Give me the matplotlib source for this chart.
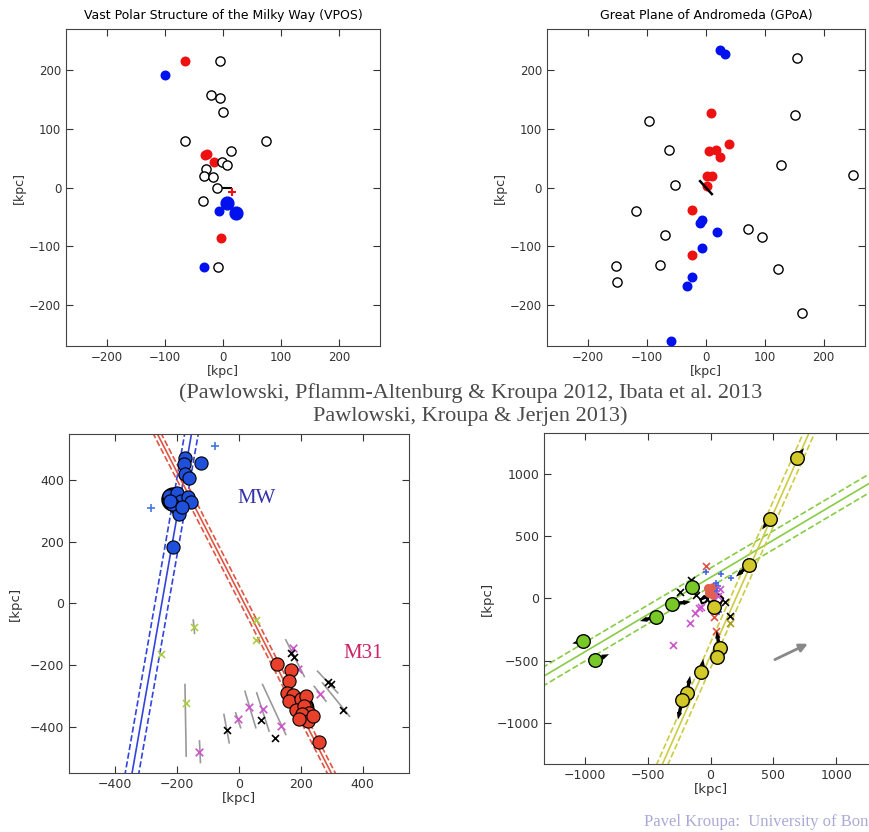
import matplotlib
matplotlib.use('Agg')
import matplotlib.pyplot as plt

# ---- top left: Vast Polar Structure of the Milky Way (VPOS) ----
vpos_red_x = [-66, -31, -27, -15, -4]
vpos_red_y = [216, 55, 58, 44, -86]
vpos_blue_x = [-100, -7, -32]
vpos_blue_y = [192, -40, -135]
vpos_mc_x = [7, 23]          # LMC / SMC
vpos_mc_y = [-27, -44]
vpos_open_x = [-5, -20, -5, 0, -65, 73, 14, -1, 7, -29, -33, -18, -11, -35, -8]
vpos_open_y = [215, 158, 152, 129, 79, 79, 62, 44, 39, 32, 19, 18, -1, -22, -135]
mw_disk_x = [-11, 14]
mw_disk_y = [-1, -1]
sun_x = [15]
sun_y = [-7]

# ---- top right: Great Plane of Andromeda (GPoA) ----
gpoa_red_x = [9, 39, 6, 17, 24, 2, 11, 1, -23, -23]
gpoa_red_y = [127, 75, 62, 64, 53, 20, 20, 2, -38, -114]
gpoa_blue_x = [24, 33, -7, -10, 19, -7, -23, -32, -59]
gpoa_blue_y = [234, 228, -56, -61, -76, -103, -153, -168, -261]
gpoa_open_x = [155, -97, 152, -63, 127, 249, -53, -118, -70, 71, 95, -78, -152, -151, 122, 163]
gpoa_open_y = [221, 113, 123, 64, 39, 22, 4, -40, -81, -71, -84, -131, -133, -161, -139, -213]
m31_disk_x = [-10, 10]
m31_disk_y = [11, -11]

# ---- bottom left: MW and M31 planes ----
mw_sat_x = [-176, -178, -122, -175, -162, -227, -200, -189, -205, -195, -164, -155, -216, -184, -222, -214]
mw_sat_y = [473, 454, 457, 419, 406, 349, 360, 333, 312, 290, 346, 328, 322, 312, 333, 183]
mw_pos = (-214, 339)
m31_sat_x = [124, 168, 162, 154, 173, 184, 162, 200, 216, 184, 211, 227, 205, 222, 238, 195, 257]
m31_sat_y = [-196, -217, -253, -290, -296, -322, -317, -310, -301, -344, -333, -355, -360, -382, -366, -376, -449]
m31_pos = (208, -335)
mag_x = [-128, -3, 32, 76, 136, 173, 191, 263]
mag_y = [-482, -376, -335, -342, -398, -145, -213, -293]
blk_x = [-40, 72, 115, 168, 176, 286, 297, 337]
blk_y = [-411, -379, -435, -161, -174, -255, -260, -344]
ygx_x = [-146, -254, -173, 54, 54]
ygx_y = [-77, -164, -322, -54, -118]
bplus_x = [-286, -79]
bplus_y = [309, 511]
# line-of-sight distance ranges
los_x0 = [-49, -11, 19, 57, 76, 151, 254, 243, 270, -175, -128, -148]
los_y0 = [-360, -355, -285, -290, -263, -118, -220, -269, -258, -263, -446, -54]
los_x1 = [-32, 5, 54, 97, 151, 211, 319, 281, 357, -171, -125, -144]
los_y1 = [-452, -403, -403, -414, -425, -237, -290, -317, -366, -495, -516, -97]
# planes as x = x0 + slope * y, half-width in x
mw_plane = (-250, 0.1746, 22)
m31_plane = (17, -0.511, 13)

# ---- bottom right: LG planes ----
green_x = [-1011, -918, -432, -308, -149]
green_y = [-340, -496, -146, -42, 90]
green_u = [-90, 110, -130, 150, 50]
green_v = [-20, 50, -35, 15, -40]
yellow_x = [687, 470, 302, 24, 72, 53, -74, -188, -225]
yellow_y = [1128, 637, 265, -69, -400, -472, -592, -759, -809]
yellow_u = [55, -60, -100, -20, -25, 0, 15, 25, -35]
yellow_v = [75, -85, -90, 40, 140, 0, 110, 140, -160]
lg_redx_x = [-34, 30, 40]
lg_redx_y = [257, -150, -260]
lg_red_x = [-20, 5, 15, -10, 20]
lg_red_y = [80, 60, 95, 40, 30]
lg_blue_x = [-34, 85, 159, 45, 58, 50, 70]
lg_blue_y = [212, 199, 164, 125, 98, 60, -110]
lg_blk_x = [-154, -247, -120, 114, 151]
lg_blk_y = [151, 53, 30, -29, -141]
lg_ylw_x = [151]
lg_ylw_y = [-199]
lg_mag_x = [-167, -300, -127, -93, -80, 72, 60]
lg_mag_y = [-199, -371, -119, -74, -70, 72, 20]
orbit_x = [-80, -50, -20, -40, -70, -80, -30, 10, 40, 20, -10, -30, 30, 70, 100, 80, 40, 30]
orbit_y = [-10, 20, 0, -30, -40, -10, 10, 30, 10, -20, -30, 0, 40, 30, 0, -40, -50, -20]
arrow_start = (491, -499)
arrow_end = (793, -353)
# planes: green y = y0 + slope * x (half-width in y), yellow x = x0 + slope * y (half-width in x)
green_plane = (169, 0.596, 75)
yellow_plane = (200, 0.44, 45)


def style_axes(ax, lim, ticks, fs):
    ax.set_xlim(-lim, lim)
    ax.set_ylim(-lim, lim)
    ax.set_xticks(ticks)
    ax.set_yticks(ticks)
    ax.tick_params(direction='in', top=True, right=True, length=5,
                   labelsize=fs, colors='#333333')
    for s in ax.spines.values():
        s.set_color('#444444')
    ax.set_xlabel('[kpc]', fontsize=fs + 0.5, color='#333333', labelpad=1)
    ax.set_ylabel('[kpc]', fontsize=fs + 0.5, color='#333333', labelpad=2)


fig = plt.figure(figsize=(8.7, 8.32), dpi=100)

# top left
ax1 = fig.add_axes([0.0759, 0.584, 0.361, 0.381])
ax1.plot(mw_disk_x, mw_disk_y, color='k', lw=1.5, zorder=2)
ax1.scatter(vpos_red_x, vpos_red_y, s=38, color='#ee1111', zorder=3)
ax1.scatter(vpos_blue_x, vpos_blue_y, s=38, color='#0011ee', zorder=3)
ax1.scatter(vpos_mc_x, vpos_mc_y, s=85, color='#0011ee', zorder=3)
ax1.scatter(vpos_open_x, vpos_open_y, s=44, facecolor='white', edgecolor='k', lw=1, zorder=4)
ax1.scatter(sun_x, sun_y, marker='+', s=40, color='#ee1111', lw=1.5, zorder=5)
style_axes(ax1, 270, [-200, -100, 0, 100, 200], 8.5)
ax1.set_title('Vast Polar Structure of the Milky Way (VPOS)', fontsize=9, pad=7)

# top right
ax2 = fig.add_axes([0.6287, 0.584, 0.3655, 0.381])
ax2.scatter(gpoa_open_x, gpoa_open_y, s=44, facecolor='white', edgecolor='k', lw=1, zorder=2)
ax2.scatter(gpoa_red_x, gpoa_red_y, s=38, color='#ee1111', zorder=3)
ax2.scatter(gpoa_blue_x, gpoa_blue_y, s=38, color='#0011ee', zorder=3)
ax2.plot(m31_disk_x, m31_disk_y, color='k', lw=1.8, zorder=4)
style_axes(ax2, 270, [-200, -100, 0, 100, 200], 8.5)
ax2.set_title('Great Plane of Andromeda (GPoA)', fontsize=9, pad=7)

# bottom left
ax3 = fig.add_axes([0.0793, 0.0709, 0.391, 0.4075])
yy = [-560, 560]
for plane, col in [(mw_plane, '#3344dd'), (m31_plane, '#e05544')]:
    x0, sl, w = plane
    ax3.plot([x0 + sl * v for v in yy], yy, color=col, lw=1.2, zorder=1)
    for off in (-w, w):
        ax3.plot([x0 + off + sl * v for v in yy], yy, color=col, lw=1.2, ls='--', zorder=1)
for a, b, c, d in zip(los_x0, los_y0, los_x1, los_y1):
    ax3.plot([a, c], [b, d], color='#999999', lw=1.2, zorder=2)
ax3.scatter(mag_x, mag_y, marker='x', s=30, color='#cc55cc', lw=1.2, zorder=3)
ax3.scatter(blk_x, blk_y, marker='x', s=25, color='k', lw=1.2, zorder=3)
ax3.scatter(ygx_x, ygx_y, marker='x', s=25, color='#aacc44', lw=1.2, zorder=3)
ax3.scatter(bplus_x, bplus_y, marker='+', s=30, color='#4477dd', lw=1.2, zorder=3)
ax3.scatter([mw_pos[0]], [mw_pos[1]], s=260, color='#1e50dc', edgecolor='k', lw=1.5, zorder=4)
ax3.scatter(mw_sat_x, mw_sat_y, s=90, color='#1e50dc', edgecolor='k', lw=0.8, zorder=5)
ax3.scatter([m31_pos[0]], [m31_pos[1]], s=200, color='#e8402a', edgecolor='k', lw=1.5, zorder=4)
ax3.scatter(m31_sat_x, m31_sat_y, s=90, color='#e8402a', edgecolor='k', lw=0.8, zorder=5)
ax3.text(58, 342, 'MW', color='#3333aa', fontsize=15, family='Liberation Serif',
         ha='center', va='center')
ax3.text(401, -161, 'M31', color='#cc2266', fontsize=15, family='Liberation Serif',
         ha='center', va='center')
style_axes(ax3, 550, [-400, -200, 0, 200, 400], 9)
ax3.set_ylabel('[kpc]', fontsize=9.5, color='#333333', labelpad=6)

# bottom right
ax4 = fig.add_axes([0.6253, 0.0817, 0.383, 0.398])
xx = [-1400, 1400]
y0, sl, w = green_plane
for off, ls in [(0, '-'), (-w, '--'), (w, '--')]:
    ax4.plot(xx, [y0 + off + sl * v for v in xx], color='#88cc44', lw=1.2, ls=ls, zorder=1)
x0, sl, w = yellow_plane
for off, ls in [(0, '-'), (-w, '--'), (w, '--')]:
    ax4.plot([x0 + off + sl * v for v in xx], xx, color='#cccc44', lw=1.2, ls=ls, zorder=1)
ax4.plot(orbit_x, orbit_y, color='k', lw=1.5, zorder=2)
ax4.scatter(lg_red_x, lg_red_y, s=30, color='#e06050', zorder=2)
ax4.scatter(lg_redx_x, lg_redx_y, marker='x', s=25, color='#e05040', lw=1.2, zorder=3)
ax4.scatter(lg_blue_x, lg_blue_y, marker='+', s=25, color='#4466ee', lw=1.2, zorder=3)
ax4.scatter(lg_blk_x, lg_blk_y, marker='x', s=25, color='k', lw=1.2, zorder=3)
ax4.scatter(lg_ylw_x, lg_ylw_y, marker='x', s=25, color='#aa9922', lw=1.2, zorder=3)
ax4.scatter(lg_mag_x, lg_mag_y, marker='x', s=25, color='#cc55cc', lw=1.2, zorder=3)
ax4.quiver(green_x, green_y, green_u, green_v, angles='xy', scale_units='xy', scale=1,
           color='k', width=0.010, headwidth=1.6, headlength=2.2, headaxislength=2.2, zorder=4)
ax4.quiver(yellow_x, yellow_y, yellow_u, yellow_v, angles='xy', scale_units='xy', scale=1,
           color='k', width=0.010, headwidth=1.6, headlength=2.2, headaxislength=2.2, zorder=4)
ax4.scatter(green_x, green_y, s=95, color='#78c828', edgecolor='k', lw=1, zorder=5)
ax4.scatter(yellow_x, yellow_y, s=95, color='#d2c828', edgecolor='k', lw=1, zorder=5)
ax4.annotate('', xy=arrow_end, xytext=arrow_start,
             arrowprops=dict(arrowstyle='-|>', color='#888888', lw=2, mutation_scale=12))
style_axes(ax4, 1325, [-1000, -500, 0, 500, 1000], 9)

fig.text(0.541, 1 - 393 / 832, '(Pawlowski, Pflamm-Altenburg & Kroupa 2012, Ibata et al. 2013',
         ha='center', va='center', family='Liberation Serif', fontsize=16, color='#4a4a4a')
fig.text(0.541, 1 - 416 / 832, 'Pawlowski, Kroupa & Jerjen 2013)',
         ha='center', va='center', family='Liberation Serif', fontsize=16, color='#4a4a4a')
fig.text(868 / 870, 1 - 822 / 832, 'Pavel Kroupa:  University of Bon',
         ha='right', va='center', family='Liberation Serif', fontsize=12, color='#aaaad8')

fig.savefig('out.png', dpi=100)
